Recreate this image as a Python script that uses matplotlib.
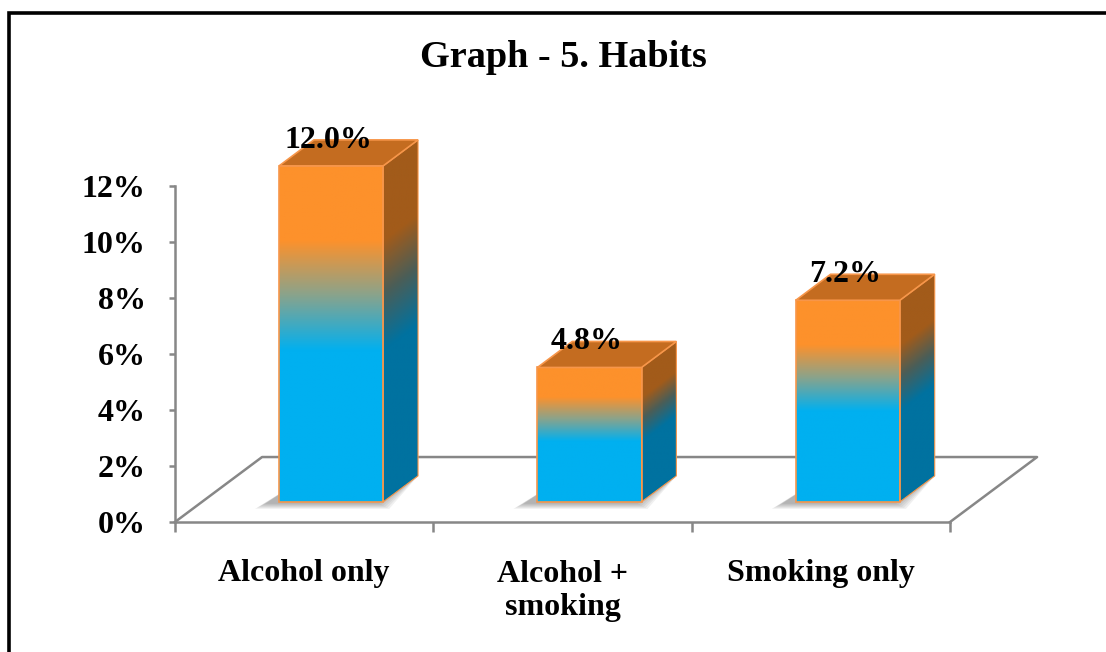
import numpy as np
import matplotlib
matplotlib.use("Agg")
import matplotlib.pyplot as plt
from matplotlib.colors import LinearSegmentedColormap
from matplotlib.patches import Polygon
from matplotlib.lines import Line2D

# data
categories = ["Alcohol only", "Alcohol +\nsmoking", "Smoking only"]
values = [12.0, 4.8, 7.2]
tick_values = [0, 2, 4, 6, 8, 10, 12]
title = "Graph - 5. Habits"

plt.rcParams['font.family'] = ['Liberation Serif', 'DejaVu Serif']
plt.rcParams['font.weight'] = 'bold'

W, H = 1106, 652
fig = plt.figure(figsize=(W / 100, H / 100), dpi=100)
ax = fig.add_axes([175 / W, 130 / H, 904.2 / W, 392 / H])
ax.set_xlim(-0.5, 3.0)
ax.set_ylim(0, 14)

# fake 3d projection (depth offsets in data units)
FLOOR_DX = 0.337
FLOOR_DY = 2.32
BAR_FRONT = 0.31
BAR_DEPTH = 0.40
BAR_W = 0.403

gray = '#878787'
edge = '#F7964A'
front_cmap = LinearSegmentedColormap.from_list(
    'front', [(0, '#00B0F0'), (0.45, '#00B0F0'), (0.62, '#8CA38A'), (0.78, '#FD912B'), (1, '#FD912B')])
side_cmap = LinearSegmentedColormap.from_list(
    'side', [(0, '#0072A0'), (0.45, '#0072A0'), (0.62, '#4A5E58'), (0.78, '#A25B1A'), (1, '#A25B1A')])
top_color = '#C46C20'

# floor outline
ax.plot([-0.5, -0.5 + FLOOR_DX, 2.5 + FLOOR_DX, 2.5], [0, FLOOR_DY, FLOOR_DY, 0],
        color=gray, lw=1.8, zorder=1, clip_on=False)

px = 1 / 258.3   # one pixel in category units
py = 1 / 28.0    # one pixel in % units
ddx = BAR_DEPTH * FLOOR_DX
ddy = BAR_DEPTH * FLOOR_DY
b = BAR_FRONT * FLOOR_DY

for i, v in enumerate(values):
    x0 = i + BAR_FRONT * FLOOR_DX - BAR_W / 2
    x1 = x0 + BAR_W
    t = b + v

    # soft shadow on the floor, mostly to the left of the bar
    for k in range(6):
        e = k * 2
        shadow = Polygon([(x0 - (14 + e) * px, b - (2 + e * 0.5) * py),
                          (x1 - (4 - e) * px, b - (2 + e * 0.5) * py),
                          (x1 + ddx, b + ddy),
                          (x0 + ddx - 6 * px, b + ddy)],
                         closed=True, facecolor='#303030', edgecolor='none', alpha=0.07, zorder=1.5)
        ax.add_patch(shadow)

    # front face
    grad = np.linspace(0, 1, 256).reshape(-1, 1)
    ax.imshow(grad, cmap=front_cmap, extent=[x0, x1, b, t], origin='lower',
              aspect='auto', interpolation='bilinear', zorder=2)
    ax.add_patch(Polygon([(x0, b), (x1, b), (x1, t), (x0, t)], closed=True,
                         facecolor='none', edgecolor=edge, lw=1.2, zorder=2.3))

    # side face
    side_pts = [(x1, b), (x1 + ddx, b + ddy), (x1 + ddx, t + ddy), (x1, t)]
    side_poly = Polygon(side_pts, closed=True, facecolor='none', edgecolor='none', zorder=2.1)
    ax.add_patch(side_poly)
    X, Y = np.meshgrid(np.linspace(x1, x1 + ddx, 60), np.linspace(b, t + ddy, 300))
    hfrac = np.clip((Y - b - (X - x1) / ddx * ddy) / v, 0, 1)
    im = ax.imshow(hfrac, cmap=side_cmap, vmin=0, vmax=1, extent=[x1, x1 + ddx, b, t + ddy],
                   origin='lower', aspect='auto', interpolation='bilinear', zorder=2)
    im.set_clip_path(side_poly)
    ax.add_patch(Polygon(side_pts, closed=True, facecolor='none', edgecolor=edge, lw=0.8, zorder=2.2))

    # top face
    ax.add_patch(Polygon([(x0, t), (x1, t), (x1 + ddx, t + ddy), (x0 + ddx, t + ddy)], closed=True,
                         facecolor=top_color, edgecolor=edge, lw=1.2, zorder=2.4))

    ax.annotate(f"{v:.1f}%", (x0 + BAR_W / 2, t), xytext=(-2, 13), textcoords='offset points',
                ha='center', va='baseline', fontsize=23, fontweight='bold', zorder=5)

# axes styling
for s in ['top', 'right']:
    ax.spines[s].set_visible(False)
ax.spines['left'].set_bounds(0, 12)
ax.spines['bottom'].set_bounds(-0.5, 2.5)
for s in ['left', 'bottom']:
    ax.spines[s].set_color(gray)
    ax.spines[s].set_linewidth(1.8)

ax.set_yticks(tick_values)
ax.set_yticklabels([f"{v}%" for v in tick_values])
ax.tick_params(axis='y', direction='out', length=4, width=1.8, color=gray, pad=17, labelsize=23)

ax.set_xticks([-0.5, 0.5, 1.5, 2.5])
ax.set_xticklabels([])
ax.set_xticks([0, 1, 2], minor=True)
ax.set_xticklabels(categories, minor=True, linespacing=1.2)
ax.tick_params(axis='x', which='major', direction='out', length=7.2, width=1.8, color=gray)
ax.tick_params(axis='x', which='minor', length=0, pad=27, labelsize=23)
ax.set_facecolor('none')

fig.text(563 / W, 1 - 67 / H, title, ha='center', va='baseline', fontsize=27.5, fontweight='bold')

# outer frame
top_y = 1 - 12.5 / H
fig.add_artist(Line2D([9 / W, 9 / W, 1.0], [0.0, top_y, top_y], color='black', lw=2.6,
                      solid_joinstyle='miter'))

fig.savefig("out.png", dpi=100)
